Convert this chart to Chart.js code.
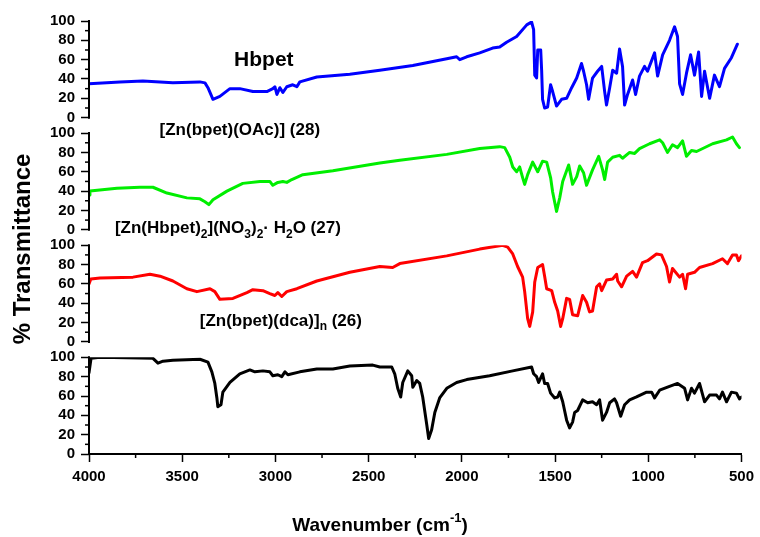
<!DOCTYPE html>
<html>
<head>
<meta charset="utf-8">
<script src="https://cdn.jsdelivr.net/npm/chart.js@4.4.1/dist/chart.umd.min.js"></script>
<style>
  html, body { margin: 0; padding: 0; background: #fff; }
  #wrap { width: 760px; height: 537px; position: relative; }
</style>
</head>
<body>
<div id="wrap"><canvas id="ir"></canvas></div>
<script>
// FTIR spectra as [wavenumber (cm-1), % transmittance]
const hbpet = [
  [4000, 35], [3834, 37], [3711, 38], [3550, 36], [3405, 37], [3378, 36], [3362, 31], [3335, 19],
  [3298, 22], [3244, 30], [3191, 30], [3121, 27], [3046, 27], [3014, 30], [3003, 32], [2992, 24],
  [2976, 31], [2960, 26], [2939, 32], [2907, 34], [2885, 32], [2869, 37], [2778, 42], [2601, 45],
  [2440, 49], [2263, 54], [2081, 61], [2028, 63], [2011, 60], [1974, 63], [1904, 67], [1835, 72],
  [1797, 73], [1760, 78], [1706, 84], [1652, 96], [1626, 99], [1615, 91], [1609, 44], [1599, 41],
  [1593, 70], [1577, 70], [1572, 49], [1567, 19], [1556, 10], [1540, 11], [1524, 34], [1513, 27],
  [1492, 12], [1465, 19], [1438, 20], [1411, 31], [1384, 41], [1358, 56], [1347, 48], [1331, 34],
  [1320, 19], [1299, 41], [1272, 48], [1250, 53], [1234, 27], [1224, 13], [1207, 31], [1191, 49],
  [1170, 46], [1154, 71], [1138, 53], [1127, 13], [1111, 24], [1084, 39], [1068, 24], [1047, 43],
  [1020, 53], [1004, 48], [966, 67], [950, 43], [923, 65], [886, 80], [859, 94], [843, 84],
  [832, 35], [816, 24], [795, 46], [773, 65], [752, 44], [730, 68], [714, 22], [698, 48],
  [671, 20], [645, 44], [618, 32], [591, 51], [554, 62], [522, 76]
];

const znOAc = [
  [4000, 36], [3995, 40], [3850, 43], [3727, 44], [3657, 44], [3582, 38], [3475, 33], [3405, 32],
  [3378, 29], [3357, 26], [3335, 31], [3260, 40], [3175, 48], [3083, 50], [3030, 50], [3014, 46],
  [2987, 49], [2960, 50], [2939, 49], [2912, 52], [2853, 57], [2692, 61], [2440, 69], [2333, 72],
  [2081, 78], [1904, 84], [1797, 86], [1770, 85], [1743, 75], [1727, 65], [1706, 60], [1690, 65],
  [1674, 54], [1663, 47], [1647, 57], [1620, 70], [1593, 60], [1567, 71], [1545, 70], [1524, 54],
  [1513, 39], [1492, 19], [1475, 33], [1459, 50], [1427, 67], [1406, 47], [1384, 55], [1368, 66],
  [1347, 59], [1331, 46], [1299, 62], [1266, 76], [1245, 62], [1234, 52], [1218, 70], [1191, 75],
  [1154, 77], [1138, 74], [1100, 80], [1073, 79], [1047, 84], [993, 89], [939, 93], [923, 90],
  [897, 80], [870, 88], [843, 85], [816, 92], [795, 76], [768, 82], [741, 81], [655, 89],
  [580, 93], [548, 96], [527, 89], [511, 85]
];

const znNO3 = [
  [4000, 60], [3990, 65], [3941, 66], [3764, 67], [3673, 70], [3619, 68], [3550, 63], [3475, 55],
  [3421, 52], [3351, 55], [3325, 52], [3298, 44], [3228, 45], [3153, 51], [3121, 54], [3067, 53],
  [3030, 50], [3003, 48], [2987, 51], [2966, 47], [2939, 52], [2885, 55], [2778, 63], [2601, 72],
  [2440, 78], [2371, 77], [2333, 81], [2081, 89], [1904, 96], [1781, 100], [1754, 98], [1727, 91],
  [1701, 78], [1674, 67], [1663, 52], [1647, 24], [1636, 16], [1620, 31], [1609, 62], [1593, 77],
  [1567, 80], [1556, 68], [1545, 55], [1518, 53], [1502, 41], [1486, 32], [1470, 16], [1459, 24],
  [1438, 45], [1422, 44], [1406, 28], [1379, 27], [1352, 48], [1331, 41], [1315, 31], [1299, 32],
  [1277, 57], [1261, 60], [1250, 53], [1224, 64], [1191, 65], [1170, 70], [1164, 63], [1143, 57],
  [1116, 68], [1084, 73], [1063, 67], [1031, 82], [1004, 84], [956, 91], [929, 90], [902, 78],
  [886, 62], [870, 76], [832, 67], [816, 70], [800, 55], [789, 70], [752, 72], [725, 77],
  [655, 81], [602, 86], [575, 81], [548, 90], [527, 90], [516, 84], [500, 89]
];

const znDca = [
  [4000, 84], [3989, 99], [3941, 100], [3657, 99], [3630, 94], [3603, 96], [3550, 97], [3405, 98],
  [3362, 95], [3341, 85], [3325, 73], [3314, 58], [3309, 49], [3292, 51], [3282, 64], [3244, 74],
  [3191, 83], [3137, 87], [3110, 85], [3067, 86], [3030, 85], [3014, 81], [2987, 82], [2966, 80],
  [2949, 85], [2933, 82], [2869, 85], [2778, 88], [2692, 88], [2601, 91], [2478, 92], [2440, 90],
  [2376, 90], [2360, 83], [2344, 68], [2328, 59], [2317, 74], [2290, 86], [2269, 81], [2263, 69],
  [2242, 76], [2226, 73], [2210, 59], [2188, 30], [2178, 16], [2162, 25], [2145, 43], [2119, 58],
  [2081, 68], [2028, 74], [1974, 77], [1851, 81], [1727, 86], [1626, 90], [1615, 83], [1599, 80],
  [1588, 74], [1567, 83], [1556, 73], [1540, 73], [1524, 63], [1502, 58], [1486, 59], [1475, 64],
  [1459, 54], [1449, 45], [1438, 35], [1422, 27], [1406, 33], [1395, 43], [1379, 45], [1352, 56],
  [1325, 53], [1299, 54], [1277, 51], [1261, 56], [1245, 35], [1224, 43], [1207, 53], [1181, 57],
  [1170, 53], [1148, 39], [1127, 51], [1100, 56], [1063, 59], [1009, 64], [982, 64], [966, 58],
  [939, 66], [886, 70], [843, 73], [805, 68], [789, 56], [768, 68], [752, 63], [725, 73],
  [698, 54], [671, 61], [634, 61], [618, 57], [602, 64], [580, 54], [554, 64], [527, 63],
  [511, 57], [500, 59]
];

const xTicks = [4000, 3500, 3000, 2500, 2000, 1500, 1000, 500];
const xMinor = [3750, 3250, 2750, 2250, 1750, 1250, 750];
const yTicks = [0, 20, 40, 60, 80, 100];
const yMinor = [10, 30, 50, 70, 90];

// sample names, each a list of [text, 'sub'?] runs
const labels = [
  { axis: 'yBlue', x: 3062, y: 59, size: 21, runs: [['Hbpet']] },
  { axis: 'yGreen', x: 3191, y: 103, size: 17, runs: [['[Zn(bpet)(OAc)] (28)']] },
  { axis: 'yGreen', x: 3255, y: 1, size: 17, runs: [['[Zn(Hbpet)'], ['2', 'sub'], ['](NO'], ['3', 'sub'], [')'], ['2', 'sub'], ['· H'], ['2', 'sub'], ['O (27)']] },
  { axis: 'yRed', x: 2971, y: 21, size: 17, runs: [['[Zn(bpet)(dca)]'], ['n', 'sub'], [' (26)']] }
];

const FONT = '"Liberation Sans", Arial, Helvetica, sans-serif';
const GAP = 16; // empty band under each upper panel, in %T units

function panelAxis(weight, isBottom) {
  return {
    type: 'linear',
    position: 'left',
    stack: 'ir',
    weight: weight,
    stackWeight: isBottom ? 100 : 100 + GAP,
    min: isBottom ? 0 : -GAP,
    max: 100,
    afterBuildTicks: s => { s.ticks = yTicks.map(v => ({ value: v })); },
    afterFit: s => { s.width = 49; },
    border: { display: false },
    grid: { drawOnChartArea: false, drawTicks: true, tickLength: 8, tickWidth: 1.5, tickColor: '#000' },
    ticks: {
      color: '#000', padding: 6, autoSkip: false,
      callback: v => String(v),
      font: { family: FONT, size: 15, weight: 'bold' }
    }
  };
}

function drawRuns(ctx, runs, cx, cy, size, bold) {
  const main = (bold ? 'bold ' : '') + size + 'px ' + FONT;
  const small = (bold ? 'bold ' : '') + Math.round(size * 0.68) + 'px ' + FONT;
  let total = 0;
  runs.forEach(r => { ctx.font = r[1] ? small : main; total += ctx.measureText(r[0]).width; });
  let x = cx - total / 2;
  ctx.textAlign = 'left';
  ctx.textBaseline = 'middle';
  runs.forEach(r => {
    ctx.font = r[1] ? small : main;
    const dy = r[1] === 'sub' ? size * 0.32 : r[1] === 'sup' ? -size * 0.38 : 0;
    ctx.fillText(r[0], x, cy + dy);
    x += ctx.measureText(r[0]).width;
  });
}

const decor = {
  id: 'decor',
  afterDraw(chart) {
    const ctx = chart.ctx;
    const area = chart.chartArea;
    const xs = chart.scales.x;
    ctx.save();
    ctx.strokeStyle = '#000';
    ctx.fillStyle = '#000';

    // left axis line and minor ticks of each panel
    ['yBlue', 'yGreen', 'yRed', 'yBlack'].forEach(id => {
      const s = chart.scales[id];
      ctx.lineWidth = 2;
      ctx.beginPath();
      ctx.moveTo(area.left, s.getPixelForValue(0) + 1);
      ctx.lineTo(area.left, s.getPixelForValue(100) - 1);
      ctx.stroke();
      ctx.lineWidth = 1.5;
      yMinor.forEach(v => {
        const y = s.getPixelForValue(v);
        ctx.beginPath();
        ctx.moveTo(area.left - 4, y);
        ctx.lineTo(area.left, y);
        ctx.stroke();
      });
    });

    // minor ticks on the wavenumber axis
    ctx.lineWidth = 1.5;
    xMinor.forEach(v => {
      const x = xs.getPixelForValue(v);
      ctx.beginPath();
      ctx.moveTo(x, area.bottom);
      ctx.lineTo(x, area.bottom + 4);
      ctx.stroke();
    });

    // sample names
    labels.forEach(l => {
      const s = chart.scales[l.axis];
      drawRuns(ctx, l.runs, xs.getPixelForValue(l.x), s.getPixelForValue(l.y), l.size, true);
    });

    // axis titles
    drawRuns(ctx, [['Wavenumber (cm'], ['-1', 'sup'], [')']], chart.width / 2, 526, 19, true);
    ctx.translate(23, 249);
    ctx.rotate(-Math.PI / 2);
    drawRuns(ctx, [['% Transmittance']], 0, 0, 24, true);
    ctx.restore();
  }
};

function series(data, axis, color) {
  return {
    data: data.map(([x, y]) => ({ x, y })),
    yAxisID: axis,
    borderColor: color,
    borderWidth: 3,
    borderJoinStyle: 'round',
    borderCapStyle: 'round',
    pointRadius: 0,
    tension: 0,
    fill: false
  };
}

new Chart(document.getElementById('ir'), {
  type: 'line',
  data: {
    datasets: [
      series(hbpet, 'yBlue', '#0000ff'),
      series(znOAc, 'yGreen', '#00ee00'),
      series(znNO3, 'yRed', '#ff0000'),
      series(znDca, 'yBlack', '#000000')
    ]
  },
  options: {
    responsive: true,
    maintainAspectRatio: false,
    animation: false,
    layout: { padding: { left: 40, right: 18, top: 21, bottom: 47 } },
    plugins: { legend: { display: false }, tooltip: { enabled: false } },
    scales: {
      x: {
        type: 'linear',
        reverse: true,
        min: 500,
        max: 4000,
        afterBuildTicks: s => { s.ticks = xTicks.map(v => ({ value: v })); },
        afterFit: s => { s.height = 36; },
        border: { display: true, color: '#000', width: 2 },
        grid: { drawOnChartArea: false, tickLength: 8, tickWidth: 1.5, tickColor: '#000' },
        ticks: {
          color: '#000', padding: 6, maxRotation: 0, autoSkip: false,
          callback: v => String(v),
          font: { family: FONT, size: 15, weight: 'bold' }
        }
      },
      yBlack: panelAxis(1, true),
      yRed: panelAxis(2, false),
      yGreen: panelAxis(3, false),
      yBlue: panelAxis(4, false)
    }
  },
  plugins: [decor]
});
</script>
</body>
</html>
